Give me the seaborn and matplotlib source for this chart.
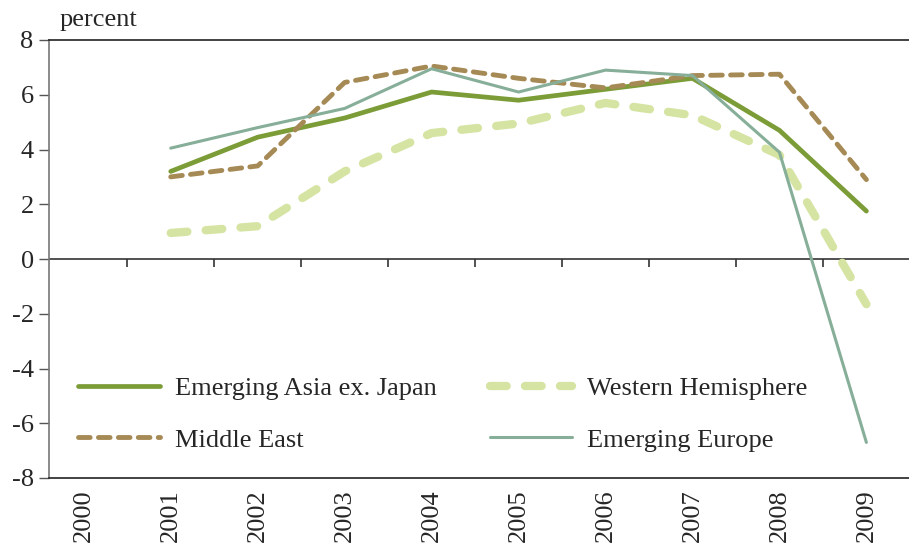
import numpy as np
import pandas as pd
import seaborn as sns
import matplotlib.pyplot as plt

years = ['2000', '2001', '2002', '2003', '2004', '2005', '2006', '2007', '2008', '2009']
data_years = years[1:]

asia = [3.2, 4.45, 5.15, 6.1, 5.8, 6.2, 6.6, 4.7, 1.75]
middle_east = [3.0, 3.4, 6.45, 7.05, 6.6, 6.25, 6.7, 6.75, 2.9]
west_hem = [0.95, 1.2, 3.2, 4.6, 4.95, 5.7, 5.25, 3.8, -1.65]
europe = [4.05, 4.8, 5.5, 6.95, 6.1, 6.9, 6.7, 3.9, -6.7]

series = {
    'Emerging Asia ex. Japan': asia,
    'Middle East': middle_east,
    'Western Hemisphere': west_hem,
    'Emerging Europe': europe,
}
order = list(series.keys())

colors = {
    'Emerging Asia ex. Japan': '#7b9c37',
    'Middle East': '#a68a55',
    'Western Hemisphere': '#d5e4a2',
    'Emerging Europe': '#86ae98',
}
widths = {
    'Emerging Asia ex. Japan': 3.4,
    'Middle East': 3.5,
    'Western Hemisphere': 6.0,
    'Emerging Europe': 2.2,
}
dashes = {
    'Emerging Asia ex. Japan': '',
    'Middle East': (2.4, 1.7),
    'Western Hemisphere': (2.0, 2.2),
    'Emerging Europe': '',
}

rows = []
for name, vals in series.items():
    for yr, v in zip(data_years, vals):
        rows.append({'Year': years.index(yr), 'Region': name, 'Value': v})
df = pd.DataFrame(rows)

sns.set_style('white')
plt.rcParams['font.family'] = ['Liberation Serif', 'DejaVu Serif']
plt.rcParams['axes.unicode_minus'] = False
plt.rcParams['lines.solid_capstyle'] = 'round'
plt.rcParams['lines.dash_capstyle'] = 'round'

FS = 19

fig = plt.figure(figsize=(9.09, 5.44), dpi=100)
ax = fig.add_axes([49 / 909, 1 - 478 / 544, 1 - 49 / 909, (478 - 40) / 544])

sns.lineplot(data=df, x='Year', y='Value', hue='Region', style='Region', size='Region',
             hue_order=order, style_order=order, size_order=order,
             palette=colors, dashes=dashes, sizes=widths, ax=ax, legend=False)

# legend built from the drawn lines (columns fill top to bottom)
handles = ax.get_lines()[:4]
ax.legend(handles, order,
          ncol=2, frameon=False, fontsize=FS, handlelength=3.1, handletextpad=0.57,
          columnspacing=2.03, labelspacing=1.05,
          loc='lower left', bbox_to_anchor=(0.006, 0.006))

ax.set_xlim(-0.4, 9.49)
ax.set_ylim(-8, 8)
ax.set_yticks(np.arange(-8, 9, 2))
ax.set_xticks(range(len(years)))
ax.set_xticklabels(years, rotation=90, fontsize=FS)
ax.tick_params(axis='x', length=0, pad=8)
ax.tick_params(axis='y', direction='out', length=7, width=1, color='#555555', labelsize=FS, pad=4, left=True)
ax.set_xlabel('')
ax.set_ylabel('')

for s in ['top', 'bottom']:
    ax.spines[s].set_color('#222222')
    ax.spines[s].set_linewidth(1.2)
ax.spines['left'].set_color('#777777')
ax.spines['left'].set_linewidth(1.2)
ax.spines['right'].set_visible(False)

# zero line with ticks at category boundaries
ax.axhline(0, color='#333333', lw=1.2, zorder=1)
ax.vlines(np.arange(0.5, 9, 1), -0.3, 0, color='#333333', lw=1.2, zorder=1)

fig.text(60 / 909, 1 - 20 / 544, 'percent', fontsize=FS, va='center', ha='left')

fig.savefig('out.png', dpi=100)
